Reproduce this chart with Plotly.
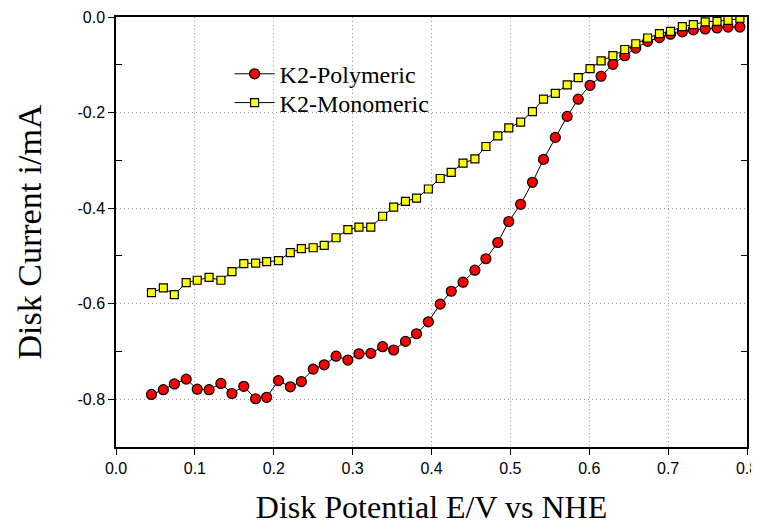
import plotly.graph_objects as go

# potential (V vs NHE), shared by both curves
potential = [0.045, 0.060, 0.074, 0.089, 0.103, 0.118, 0.133, 0.147, 0.162, 0.177,
             0.191, 0.206, 0.221, 0.235, 0.250, 0.264, 0.279, 0.294, 0.308, 0.323,
             0.338, 0.352, 0.367, 0.381, 0.396, 0.411, 0.425, 0.440, 0.455, 0.469,
             0.484, 0.498, 0.513, 0.528, 0.542, 0.557, 0.572, 0.586, 0.601, 0.615,
             0.630, 0.645, 0.659, 0.674, 0.689, 0.703, 0.718, 0.732, 0.747, 0.762,
             0.776, 0.791]

polymeric = [-0.790, -0.780, -0.768, -0.758, -0.779, -0.780, -0.767, -0.788, -0.773, -0.799,
             -0.796, -0.761, -0.774, -0.763, -0.737, -0.728, -0.710, -0.718, -0.705, -0.704,
             -0.690, -0.697, -0.679, -0.663, -0.638, -0.601, -0.574, -0.555, -0.530, -0.506,
             -0.472, -0.428, -0.392, -0.346, -0.298, -0.252, -0.208, -0.172, -0.143, -0.124,
             -0.099, -0.081, -0.065, -0.051, -0.043, -0.036, -0.031, -0.027, -0.025, -0.023,
             -0.021, -0.021]

monomeric = [-0.577, -0.567, -0.581, -0.556, -0.551, -0.545, -0.551, -0.533, -0.516, -0.515,
             -0.512, -0.510, -0.493, -0.485, -0.483, -0.478, -0.462, -0.445, -0.440, -0.440,
             -0.417, -0.398, -0.386, -0.379, -0.360, -0.338, -0.325, -0.306, -0.297, -0.271,
             -0.249, -0.232, -0.220, -0.198, -0.172, -0.160, -0.142, -0.127, -0.108, -0.092,
             -0.081, -0.068, -0.056, -0.044, -0.035, -0.030, -0.020, -0.016, -0.010, -0.009,
             -0.007, -0.003]

x_ticks = [0.0, 0.1, 0.2, 0.3, 0.4, 0.5, 0.6, 0.7, 0.8]
x_labels = ["0.0", "0.1", "0.2", "0.3", "0.4", "0.5", "0.6", "0.7", "0.8"]
y_ticks = [0.0, -0.2, -0.4, -0.6, -0.8]
y_labels = ["0.0", "-0.2", "-0.4", "-0.6", "-0.8"]
y_minor = [-0.1, -0.3, -0.5, -0.7]

fig = go.Figure()
fig.add_trace(go.Scatter(
    x=potential, y=polymeric, name="K2-Polymeric", mode="lines+markers",
    line=dict(color="black", width=1), legend="legend",
    marker=dict(symbol="circle", size=10, color="#ff0000", line=dict(color="black", width=1.2)),
))
fig.add_trace(go.Scatter(
    x=potential, y=monomeric, name="K2-Monomeric", mode="lines+markers",
    line=dict(color="black", width=1), legend="legend2",
    marker=dict(symbol="square", size=8, color="#ffff00", line=dict(color="black", width=1.2)),
))

sans = "Liberation Sans, Arial, sans-serif"
serif = "Liberation Serif, Times New Roman, serif"
leg_font = dict(family=serif, size=24, color="black")
grid_col = "#a0a0a0"
grid_dash = "1px,3px"

# page body adds an 8px offset, so the figure is sized to fit inside the window
fig.update_layout(
    width=751, height=517,
    margin=dict(l=108, r=12, t=9, b=78),
    plot_bgcolor="white", paper_bgcolor="white",
    showlegend=True,
    legend=dict(x=0.18, y=0.867, xanchor="left", yanchor="middle", font=leg_font,
                bgcolor="rgba(0,0,0,0)", itemwidth=40),
    legend2=dict(x=0.18, y=0.800, xanchor="left", yanchor="middle", font=leg_font,
                 bgcolor="rgba(0,0,0,0)", itemwidth=40),
    xaxis=dict(
        range=[0, 0.8], tickvals=x_ticks, ticktext=x_labels,
        ticks="outside", ticklen=6, tickcolor="black",
        showline=True, linecolor="black", linewidth=1.5, mirror=True,
        showgrid=True, gridcolor=grid_col, griddash=grid_dash, gridwidth=1,
        zeroline=False, automargin=False,
        tickfont=dict(family=sans, size=16, color="black"),
        title=dict(text="Disk Potential E/V vs NHE", font=dict(family=serif, size=32, color="black"),
                   standoff=24),
    ),
    yaxis=dict(
        range=[-0.9, 0.0], tickvals=y_ticks, ticktext=y_labels,
        ticks="outside", ticklen=6, tickcolor="black",
        minor=dict(tickvals=y_minor, ticks="inside", ticklen=6, tickcolor="black", showgrid=False),
        showline=True, linecolor="black", linewidth=1.5, mirror=True,
        showgrid=True, gridcolor=grid_col, griddash=grid_dash, gridwidth=1,
        zeroline=False, automargin=False,
        tickfont=dict(family=sans, size=16, color="black"),
        title=dict(text="Disk Current i/mA", font=dict(family=serif, size=34, color="black"),
                   standoff=26),
    ),
    yaxis2=dict(
        overlaying="y", side="right", range=[-0.9, 0.0],
        tickvals=y_minor, ticks="inside", ticklen=6, tickcolor="black",
        showticklabels=False, showgrid=False, zeroline=False, showline=False,
        automargin=False,
    ),
)

# invisible trace so the right-hand tick axis is drawn
fig.add_trace(go.Scatter(x=[None], y=[None], yaxis="y2", showlegend=False, hoverinfo="skip"))

fig.write_html("out.html")
